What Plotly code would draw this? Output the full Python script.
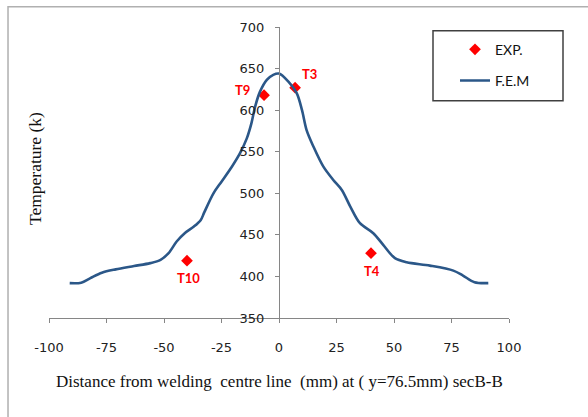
import plotly.graph_objects as go

# F.E.M temperature profile across the weld (distance in mm, temperature in K)
fem_x = [-91, -86, -82, -77, -71, -63, -56, -51.5, -48, -44.5, -41, -37, -34,
         -32.5, -28.5, -25, -20.5, -17, -14, -12, -10.4, -8.3, -5.3, -2.5, 0,
         4, 7.7, 10, 12, 15, 19.3, 23.6, 27.3, 31, 35.2, 41, 45.3, 50.4, 55.5,
         65.6, 75.8, 80, 85, 91]
fem_y = [392, 392.5, 398, 404.5, 408.5, 412.5, 416, 420, 428, 442, 452, 460, 468,
         477, 500, 514, 532, 548, 566, 584, 604, 622, 636.5, 642.5, 644,
         634.5, 620.5, 600, 576, 556, 532, 516, 504, 484, 464, 452, 438, 422, 417,
         413, 407, 401, 393, 392]

# Thermocouple measurements
exp_x = [-40, -6.5, 7, 40]
exp_y = [419, 618, 627, 428]
exp_names = ["T10", "T9", "T3", "T4"]
label_shift = {"T10": (1, -17), "T9": (-22, 5), "T3": (14, 14), "T4": (1, -18)}

x_ticks = [-100, -75, -50, -25, 0, 25, 50, 75, 100]
x_tick_text = ["-100", "-75", "-50", "-25", "0", "25", "50", "75", "100"]
y_ticks = [350, 400, 450, 500, 550, 600, 650, 700]

axis_grey = "#868686"

fig = go.Figure()
fig.add_trace(go.Scatter(
    x=exp_x, y=exp_y, mode="markers", name="EXP.", legendgroup="a",
    marker=dict(symbol="diamond", size=9, color="#ff0000"),
))
fig.add_trace(go.Scatter(
    x=fem_x, y=fem_y, mode="lines", name="F.E.M", legendgroup="b",
    line=dict(color="#2b5788", width=2.6, shape="spline", smoothing=0.9),
))

for name, xv, yv in zip(exp_names, exp_x, exp_y):
    dx, dy = label_shift[name]
    fig.add_annotation(
        x=xv, y=yv, text="<b>%s</b>" % name, showarrow=False,
        xshift=dx, yshift=dy,
        font=dict(family="Lato", size=13, color="#ff0000"),
    )

# axis titles
fig.add_annotation(
    x=0.5, y=-0.218, xref="paper", yref="paper", showarrow=False,
    text="Distance from welding  centre line  (mm) at ( y=76.5mm) secB-B",
    font=dict(family="Liberation Serif", size=17, color="#111"),
    xanchor="center", yanchor="middle",
)
fig.add_annotation(
    x=-0.03, y=0.5125, xref="paper", yref="paper", showarrow=False,
    text="Temperature (k)", textangle=-90,
    font=dict(family="Liberation Serif", size=17.5, color="#111"),
    xanchor="center", yanchor="middle",
)

# outer chart frame and legend box
fig.add_shape(type="rect", xref="paper", yref="paper",
              x0=-0.0891, x1=1.3, y0=-0.5, y1=1.0698,
              line=dict(color="#b0b0b0", width=1.5), layer="below")
fig.add_shape(type="rect", xref="paper", yref="paper",
              x0=(433 - 49) / 460, x1=(563 - 49) / 460,
              y0=(318 - 101) / 290.7, y1=(318 - 31) / 290.7,
              line=dict(color="#404040", width=1.5))

tick_font = dict(family="DejaVu Sans", size=13, color="#222")

fig.update_layout(
    width=588, height=417,
    margin=dict(l=49, r=79, t=27, b=99),
    paper_bgcolor="white", plot_bgcolor="white",
    showlegend=True,
    legend=dict(
        x=(455 - 49) / 460, y=(318 - 34) / 290.7, xanchor="left", yanchor="top",
        bgcolor="rgba(0,0,0,0)", borderwidth=0,
        font=dict(family="Lato", size=14, color="#111"),
        traceorder="grouped", tracegroupgap=10, itemwidth=30,
    ),
    xaxis=dict(
        range=[-100, 100], tickvals=x_ticks, ticktext=x_tick_text,
        ticks="outside", ticklen=4,
        tickcolor=axis_grey, showline=True, linecolor=axis_grey, linewidth=1,
        showgrid=False, zeroline=False, tickfont=tick_font,
        ticklabelstandoff=13,
    ),
    xaxis2=dict(
        range=[-100, 100], overlaying="x", anchor="y", side="bottom",
        dtick=5, tick0=0, ticks="inside", ticklen=4, tickcolor=axis_grey,
        showticklabels=False, showline=False, showgrid=False, zeroline=False,
    ),
    yaxis=dict(
        range=[350, 700], tickvals=y_ticks, ticks="outside", ticklen=4,
        tickcolor=axis_grey, showline=True, linecolor=axis_grey, linewidth=1,
        showgrid=False, zeroline=False, tickfont=tick_font,
        anchor="free", position=0.5, side="left", ticklabelstandoff=8,
    ),
    yaxis2=dict(
        range=[350, 700], overlaying="y", anchor="free", position=0.5,
        side="left", dtick=10, tick0=0, ticks="inside", ticklen=4,
        tickcolor=axis_grey, showticklabels=False, showline=False,
        showgrid=False, zeroline=False,
    ),
)

fig.write_html("out.html")
